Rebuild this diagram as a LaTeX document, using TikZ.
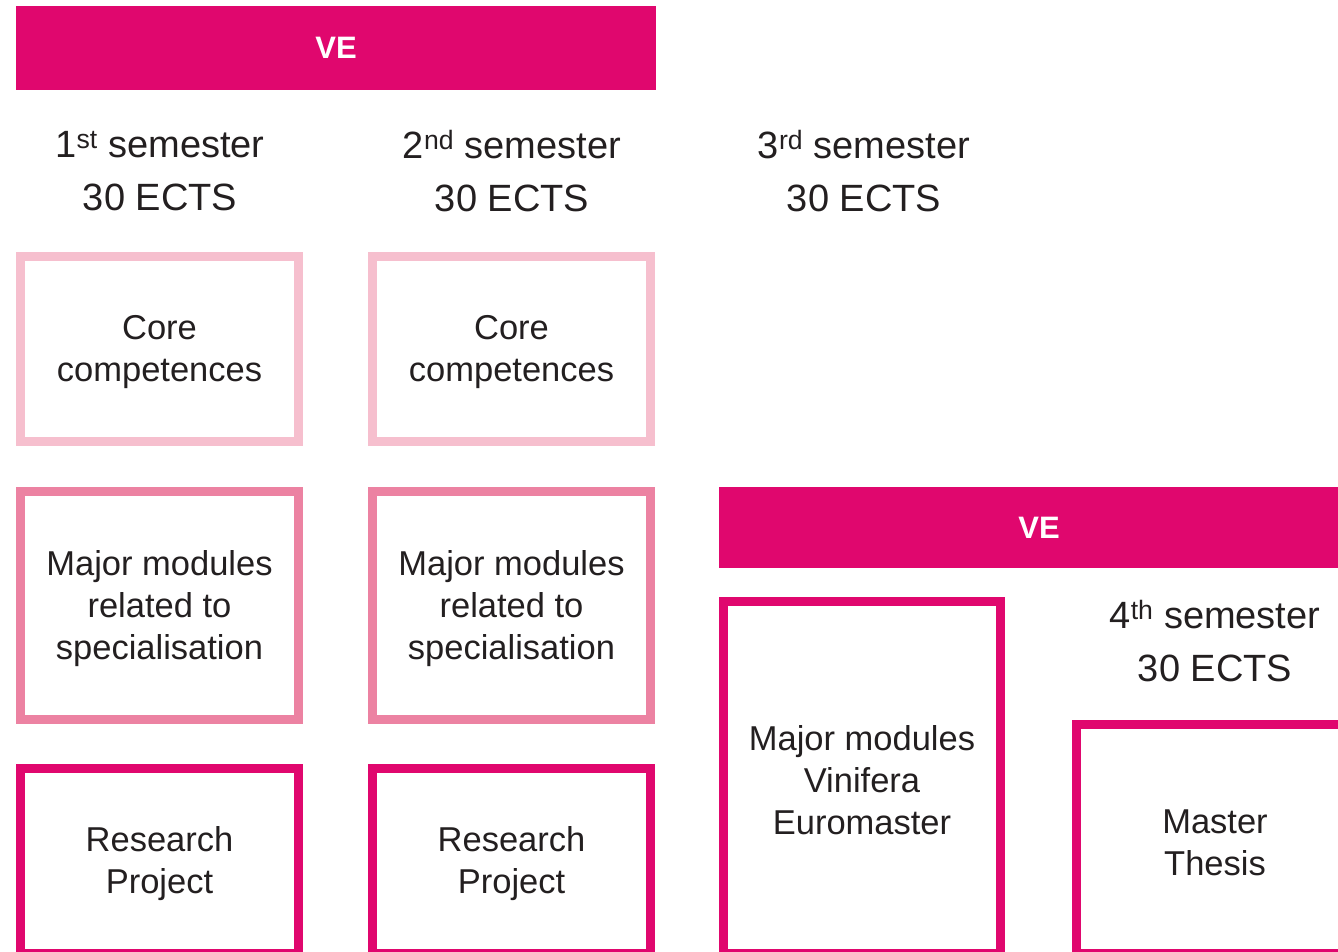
\documentclass[tikz,border=0pt]{standalone}
\usepackage{fontspec}
\setmainfont{Liberation Sans}
\definecolor{mag}{HTML}{E0076E}
\definecolor{midpink}{HTML}{EC82A2}
\definecolor{lightpink}{HTML}{F6BFCE}
\definecolor{txt}{HTML}{231F20}
\newcommand\tstrut{\rule{0pt}{31pt}}
\begin{document}
\begin{tikzpicture}[x=1pt,y=-1pt,
  bar/.style={fill=mag,draw=none,text=white,font=\fontsize{31}{36}\selectfont\bfseries,anchor=center},
  sem/.style={align=center,text=txt,font=\fontsize{38}{53}\selectfont,inner sep=0pt},
  box/.style={draw,line width=9pt,fill=white,align=center,text=txt,font=\fontsize{34.5}{42}\selectfont,inner sep=0pt,minimum width=278pt,minimum height=185pt},
  core/.style={box,draw=lightpink},
  major/.style={box,draw=midpink,minimum height=228pt},
  res/.style={box,draw=mag},
]
\useasboundingbox (0,0) rectangle (1338,952);
\clip (0,0) rectangle (1338,952);
\fill[white] (0,0) rectangle (1338,952);
% top bar
\node[bar,minimum width=640pt,minimum height=84pt] (ve1) at (336,48) {VE};
% semester labels
\node[sem] (s1) at (160,171) {1\textsuperscript{st} semester\\30 ECTS};
\node[sem] (s2) at (512,171) {2\textsuperscript{nd} semester\\30 ECTS};
\node[sem] (s3) at (864,171) {3\textsuperscript{rd} semester\\30 ECTS};
% core boxes
\node[core] (c1) at (159.5,349) {\tstrut Core\\competences};
\node[core] (c2) at (511.5,349) {\tstrut Core\\competences};
% major boxes
\node[major] (m1) at (159.5,605.5) {\tstrut Major modules\\related to\\specialisation};
\node[major] (m2) at (511.5,605.5) {\tstrut Major modules\\related to\\specialisation};
% research
\node[res] (r1) at (159.5,861) {\tstrut Research\\Project};
\node[res] (r2) at (511.5,861) {\tstrut Research\\Project};
% second bar
\node[bar,minimum width=640pt,minimum height=81pt] (ve2) at (1039,527.5) {VE};
% vinifera
\node[res,minimum width=277pt,minimum height=352pt] (v) at (862,777.5) {\tstrut Major modules\\Vinifera\\Euromaster};
% 4th sem
\node[sem] (s4) at (1215,641) {4\textsuperscript{th} semester\\30 ECTS};
% master thesis
\node[res,minimum width=277pt,minimum height=229pt] (mt) at (1215,839) {\tstrut Master\\Thesis};
\end{tikzpicture}
\end{document}
